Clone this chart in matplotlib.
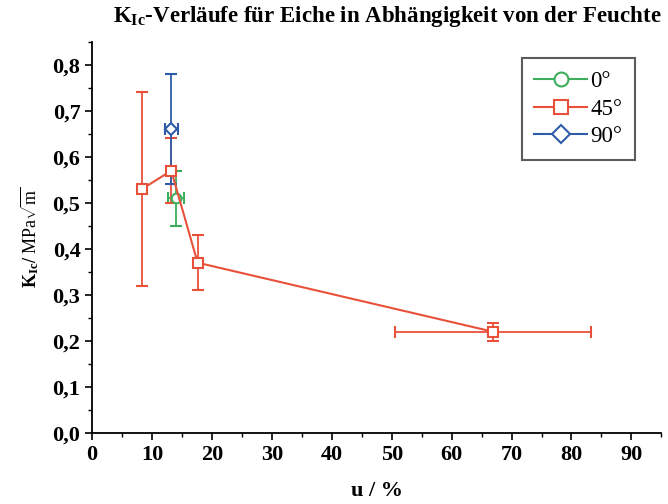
import matplotlib
matplotlib.use("Agg")
import matplotlib.pyplot as plt
from matplotlib.ticker import MultipleLocator, FuncFormatter
from matplotlib.lines import Line2D

plt.rcParams['font.family'] = ['Liberation Serif', 'DejaVu Serif']
plt.rcParams['mathtext.fontset'] = 'custom'
plt.rcParams['mathtext.rm'] = 'Liberation Serif'
plt.rcParams['mathtext.it'] = 'Liberation Serif:italic'
plt.rcParams['mathtext.bf'] = 'Liberation Serif:bold'

# 0° series
u0 = [14.0]
k0 = [0.51]
k0_err = [0.06]
u0_err = [1.3]

# 45° series
u45 = [8.3, 13.2, 17.6, 66.9]
k45 = [0.53, 0.57, 0.37, 0.22]
k45_err = [0.21, 0.07, 0.06, 0.02]
u45_err = [0.0, 0.0, 0.0, 16.3]

# 90° series
u90 = [13.2]
k90 = [0.66]
k90_err = [0.12]
u90_err = [1.1]

labels = ['0°', '45°', '90°']
colors = ['#3dae5c', '#e8503a', '#2f5ca8']

fig = plt.figure(figsize=(6.68, 5.04), dpi=100)
ax = fig.add_axes([0.138, 0.141, 0.852, 0.776])

series = [(u0, k0, k0_err, u0_err, 'o'),
          (u45, k45, k45_err, u45_err, 's'),
          (u90, k90, k90_err, u90_err, 'D')]
handles = []
for (u, k, ke, ue, m), lab, c in zip(series, labels, colors):
    ms = 7 if m != 'D' else 6.5
    ax.errorbar(u, k, yerr=ke, xerr=ue, color=c, marker=m, markersize=ms,
                markerfacecolor='white', markeredgecolor=c, markeredgewidth=1.5,
                lw=1.5, elinewidth=1.3, capsize=4, capthick=1.3)
    handles.append(Line2D([], [], color=c, marker=m, markersize=ms + 3,
                          markerfacecolor='white', markeredgecolor=c,
                          markeredgewidth=1.5, lw=1.5, label=lab))

ax.set_xlim(0, 95)
ax.set_ylim(0, 0.85)
ax.set_xticks([0, 10, 20, 30, 40, 50, 60, 70, 80, 90])
ax.xaxis.set_minor_locator(MultipleLocator(5))
ax.yaxis.set_major_locator(MultipleLocator(0.1))
ax.yaxis.set_minor_locator(MultipleLocator(0.05))
ax.yaxis.set_major_formatter(FuncFormatter(lambda v, p: f"{v:.1f}".replace('.', ',')))
for s in ['top', 'right']:
    ax.spines[s].set_visible(False)
for s in ['left', 'bottom']:
    ax.spines[s].set_linewidth(1.3)
ax.tick_params(which='major', direction='out', length=5, width=1.2, labelsize=16)
ax.tick_params(which='minor', direction='out', length=3, width=1.0)
for t in ax.get_xticklabels() + ax.get_yticklabels():
    t.set_fontweight('bold')

ax.set_xlabel('u / %', fontsize=16, fontweight='bold', labelpad=12)
ax.set_ylabel(r'K$_{\mathbf{Ic}}$/ $\mathrm{MPa}\sqrt{\mathrm{m}}$', fontsize=13, fontweight='bold', labelpad=8)
ax.set_title(r'K$_{\mathbf{Ic}}$-Verläufe für Eiche in Abhängigkeit von der Feuchte',
             fontsize=16.5, fontweight='bold', loc='right', pad=14)

leg = ax.legend(handles=handles, loc='upper right', fontsize=16.5,
                frameon=True, fancybox=False, edgecolor='#333333', handlelength=2.3,
                borderpad=0.55, labelspacing=0.3, handletextpad=0.15, borderaxespad=0)
leg.get_frame().set_linewidth(1.5)
leg.set_bbox_to_anchor((635/668, 1 - 58/504), transform=fig.transFigure)
for t in leg.get_texts():
    t.set_horizontalalignment('right')

fig.savefig('out.png', dpi=100)
